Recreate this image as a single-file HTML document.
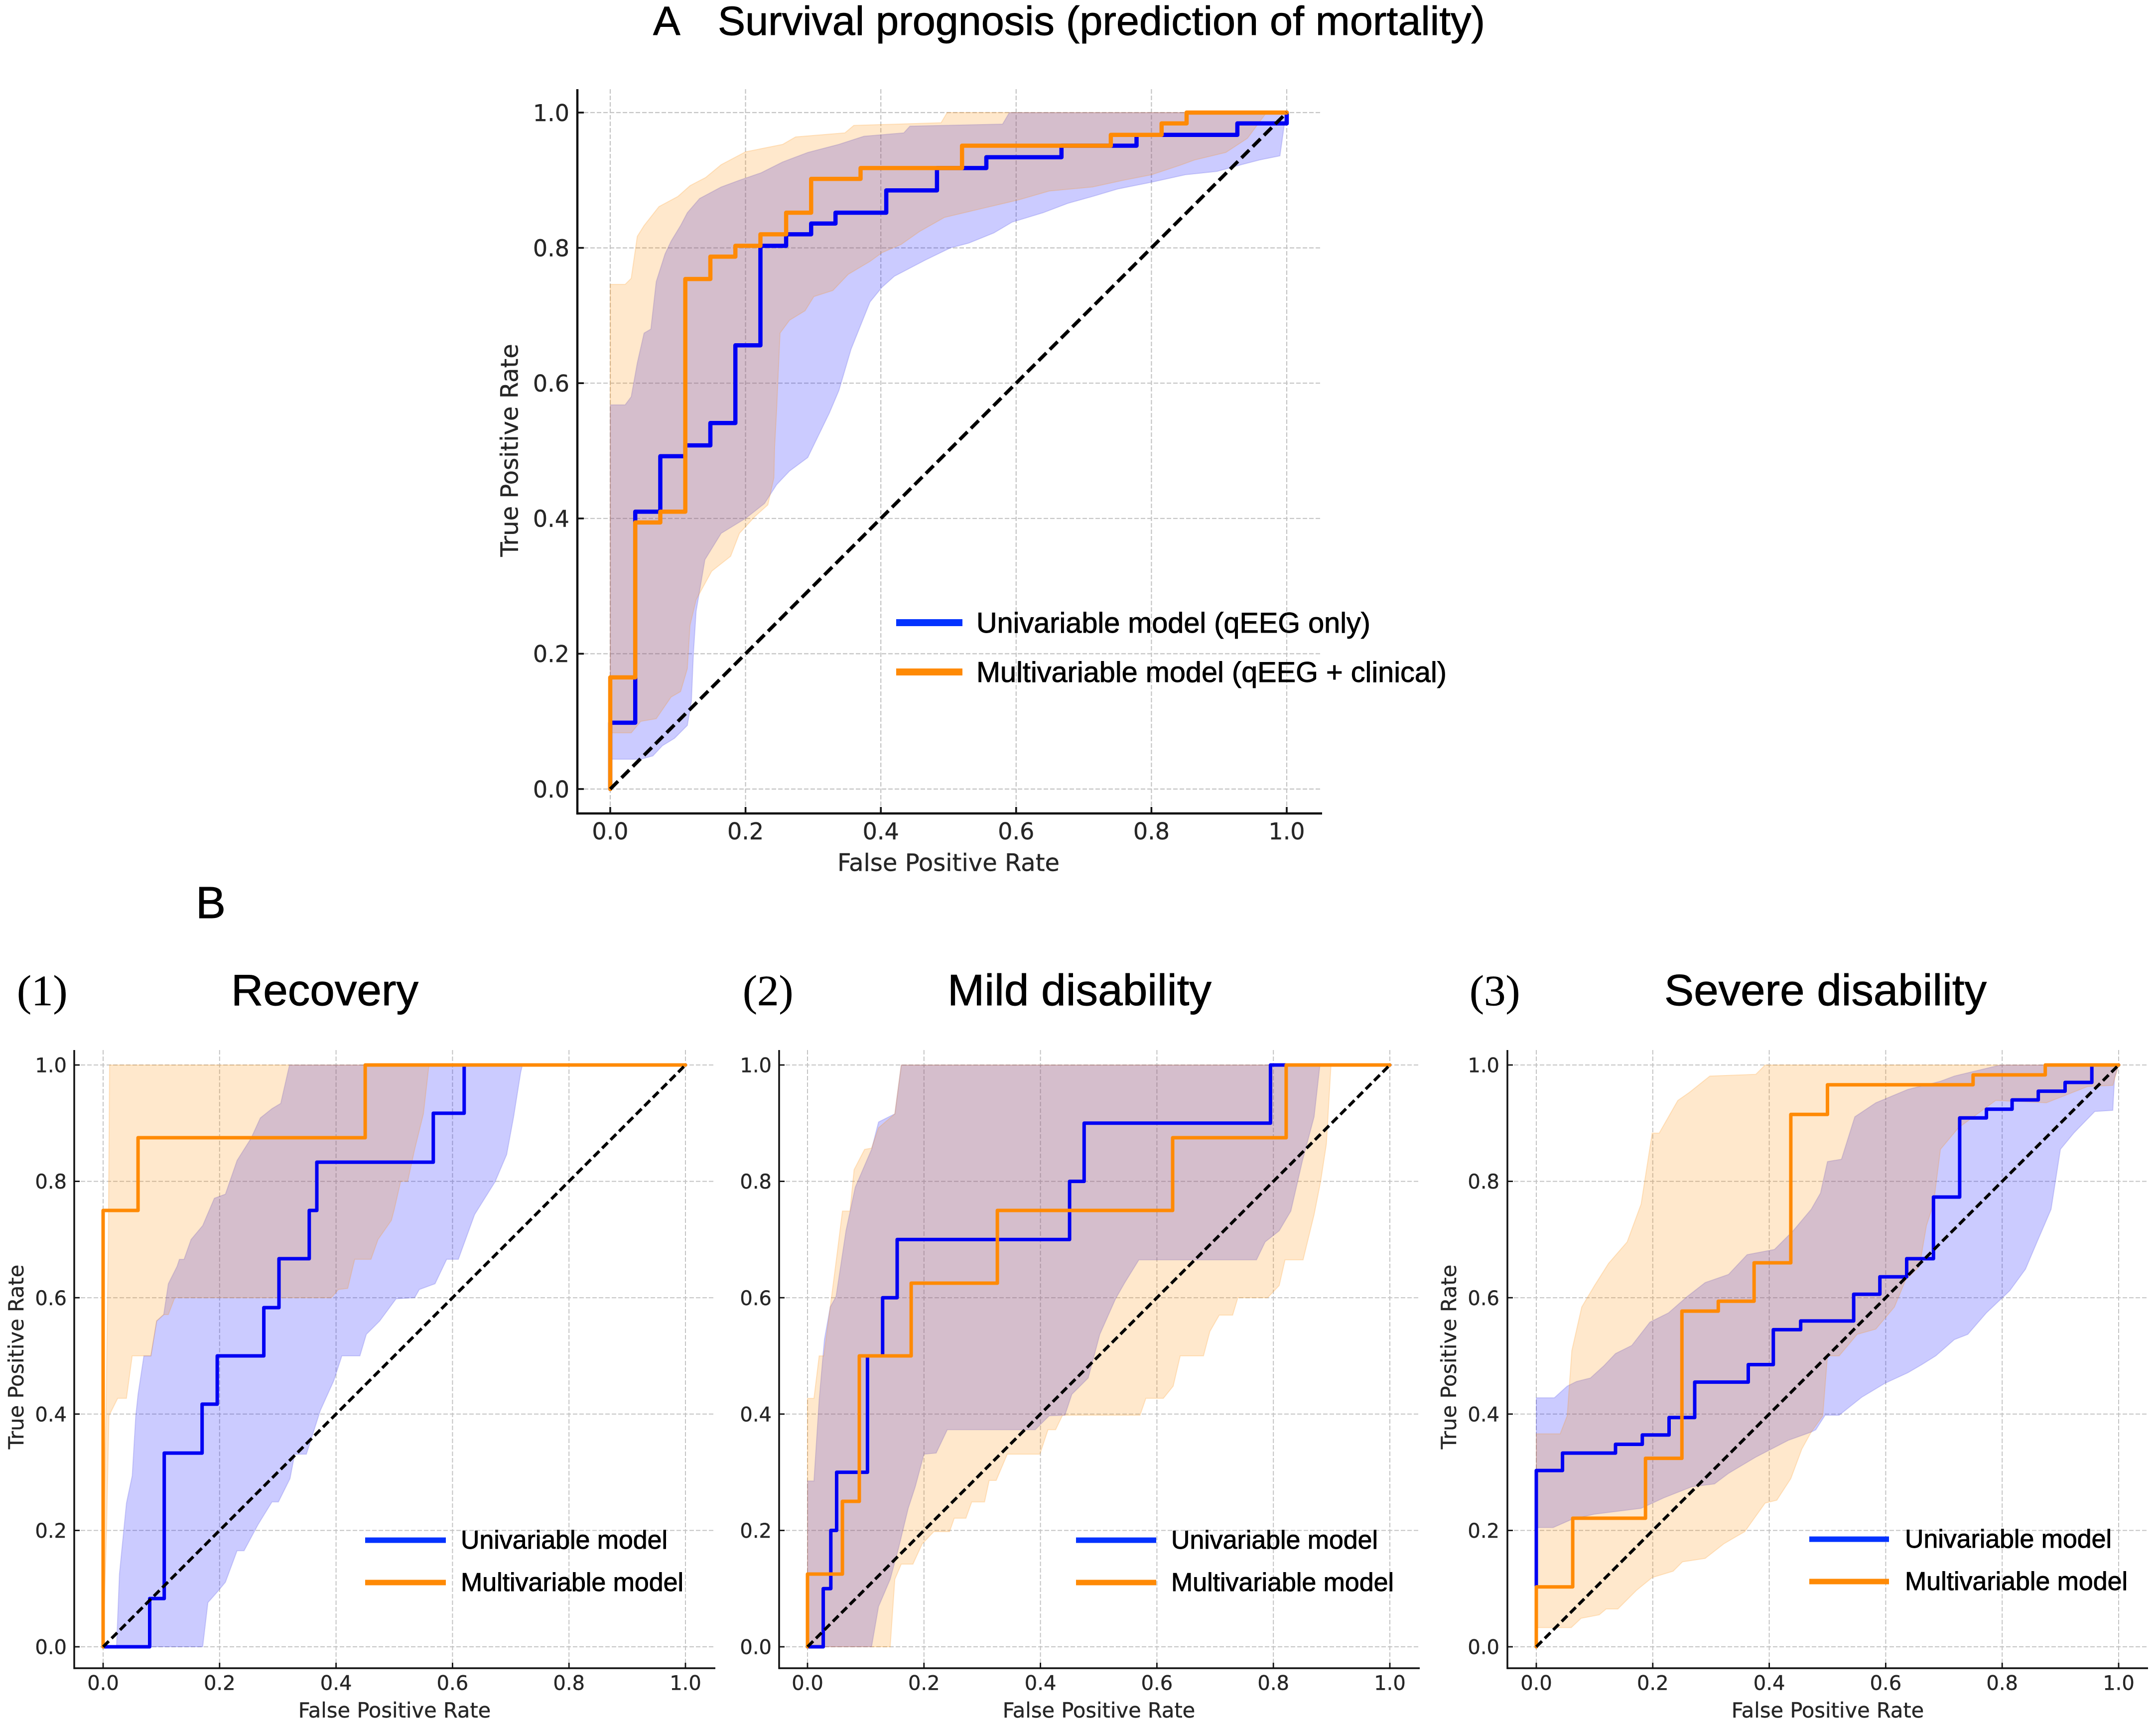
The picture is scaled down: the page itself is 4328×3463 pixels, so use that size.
<!DOCTYPE html>
<html lang="en">
<head>
<meta charset="utf-8">
<title>ROC curves: survival prognosis and outcome prediction</title>
<style>
html,body{margin:0;padding:0;background:#fff;}
svg{display:block;}
text{font-family:"Liberation Sans",sans-serif;fill:#000;stroke:#000;stroke-width:0.9px;}
.tick,.axis{font-family:"DejaVu Sans",sans-serif;fill:#262626;stroke:#262626;stroke-width:0.4px;}
.serif{font-family:"Liberation Serif",serif;stroke-width:0.4px;}
</style>
</head>
<body>
<svg id="figure" xmlns="http://www.w3.org/2000/svg" width="4328" height="3463" viewBox="0 0 4328 3463">
<rect width="4328" height="3463" fill="#fff"/>
<text x="1311" y="70" font-size="82">A</text>
<text x="1441" y="70" font-size="82" textLength="1540" lengthAdjust="spacingAndGlyphs">Survival prognosis (prediction of mortality)</text>
<text x="393" y="1843" font-size="90">B</text>
<text class="serif" x="34" y="2018" font-size="87">(1)</text>
<text x="464" y="2018" font-size="88" textLength="376" lengthAdjust="spacingAndGlyphs">Recovery</text>
<text class="serif" x="1491" y="2018" font-size="87">(2)</text>
<text x="1902" y="2018" font-size="88" textLength="530" lengthAdjust="spacingAndGlyphs">Mild disability</text>
<text class="serif" x="2950" y="2018" font-size="87">(3)</text>
<text x="3341" y="2018" font-size="88" textLength="647" lengthAdjust="spacingAndGlyphs">Severe disability</text>
</svg>
<script>
const tickValues = [0, 0.2, 0.4, 0.6, 0.8, 1.0];
const tickLabels = ['0.0', '0.2', '0.4', '0.6', '0.8', '1.0'];

const survivalUniFpr = [0,0,0.037,0.074,0.111,0.148,0.185,0.222,0.26,0.297,0.333,0.408,0.483,0.556,0.667,0.778,0.927,1];
const survivalUniTpr = [0,0.098,0.41,0.492,0.508,0.541,0.656,0.803,0.82,0.836,0.852,0.885,0.918,0.934,0.951,0.967,0.984,1];
const survivalMultiFpr = [0,0,0.037,0.074,0.111,0.148,0.185,0.222,0.26,0.297,0.37,0.52,0.74,0.815,0.852,1];
const survivalMultiTpr = [0,0.165,0.394,0.41,0.754,0.787,0.803,0.82,0.852,0.902,0.918,0.951,0.967,0.984,1,1];
const survivalUniUpper = [[0,0.568],[0.022,0.568],[0.031,0.58],[0.04,0.63],[0.05,0.674],[0.06,0.68],[0.068,0.75],[0.081,0.791],[0.09,0.81],[0.104,0.833],[0.114,0.852],[0.132,0.873],[0.164,0.89],[0.191,0.9],[0.223,0.911],[0.255,0.927],[0.292,0.941],[0.338,0.953],[0.375,0.965],[0.434,0.97],[0.443,0.98],[0.58,0.983],[0.59,1],[1,1]];
const survivalUniLower = [[0,0.044],[0.045,0.044],[0.063,0.049],[0.077,0.064],[0.095,0.075],[0.114,0.094],[0.12,0.13],[0.123,0.2],[0.127,0.263],[0.14,0.339],[0.164,0.378],[0.2,0.4],[0.228,0.422],[0.246,0.45],[0.265,0.47],[0.292,0.49],[0.324,0.556],[0.338,0.589],[0.356,0.65],[0.384,0.72],[0.402,0.742],[0.42,0.758],[0.439,0.768],[0.466,0.782],[0.503,0.8],[0.53,0.807],[0.567,0.822],[0.594,0.838],[0.64,0.852],[0.677,0.866],[0.713,0.876],[0.75,0.887],[0.8,0.897],[0.85,0.908],[0.897,0.913],[0.933,0.923],[0.96,0.93],[0.99,0.936],[0.999,1]];
const survivalMultiUpper = [[0,0.746],[0.022,0.746],[0.031,0.755],[0.04,0.817],[0.05,0.833],[0.072,0.861],[0.1,0.876],[0.118,0.892],[0.141,0.904],[0.164,0.923],[0.2,0.942],[0.255,0.953],[0.274,0.964],[0.347,0.97],[0.36,0.981],[0.489,0.985],[0.498,1],[1,1]];
const survivalMultiLower = [[0,0.083],[0.031,0.083],[0.045,0.1],[0.068,0.104],[0.09,0.136],[0.104,0.144],[0.114,0.178],[0.118,0.242],[0.127,0.28],[0.15,0.322],[0.178,0.344],[0.191,0.378],[0.214,0.403],[0.233,0.42],[0.242,0.46],[0.243,0.505],[0.246,0.561],[0.251,0.674],[0.265,0.693],[0.288,0.707],[0.301,0.728],[0.329,0.737],[0.352,0.761],[0.384,0.78],[0.402,0.793],[0.43,0.805],[0.457,0.824],[0.494,0.845],[0.549,0.858],[0.604,0.871],[0.649,0.884],[0.713,0.89],[0.759,0.9],[0.8,0.908],[0.842,0.922],[0.864,0.93],[0.91,0.941],[0.942,0.962],[0.97,1],[1,1]];

const recoveryUniFpr = [0,0.08,0.105,0.17,0.196,0.276,0.302,0.354,0.367,0.567,0.62,1];
const recoveryUniTpr = [0,0.083,0.333,0.417,0.5,0.583,0.667,0.75,0.833,0.917,1,1];
const recoveryMultiFpr = [0,0,0.06,0.45,1];
const recoveryMultiTpr = [0,0.75,0.875,1,1];
const recoveryUniUpper = [[0.023,0],[0.028,0.125],[0.04,0.247],[0.05,0.294],[0.056,0.397],[0.06,0.434],[0.07,0.5],[0.082,0.5],[0.092,0.56],[0.104,0.571],[0.112,0.624],[0.127,0.654],[0.131,0.666],[0.139,0.666],[0.151,0.7],[0.171,0.724],[0.191,0.771],[0.21,0.778],[0.23,0.836],[0.254,0.874],[0.27,0.909],[0.29,0.925],[0.305,0.934],[0.32,1],[1,1]];
const recoveryUniLower = [[0.171,0],[0.18,0.076],[0.195,0.093],[0.21,0.111],[0.23,0.165],[0.242,0.165],[0.266,0.21],[0.29,0.249],[0.301,0.249],[0.321,0.289],[0.329,0.331],[0.349,0.331],[0.373,0.406],[0.396,0.457],[0.41,0.5],[0.441,0.5],[0.452,0.537],[0.475,0.56],[0.503,0.598],[0.535,0.6],[0.543,0.614],[0.57,0.624],[0.59,0.666],[0.61,0.666],[0.638,0.743],[0.673,0.799],[0.693,0.846],[0.705,0.911],[0.717,0.987],[0.72,1],[1,1]];
const recoveryMultiUpper = [[0,0],[0.001,0.2],[0.005,0.4],[0.009,0.7],[0.011,1],[1,1]];
const recoveryMultiLower = [[0,0],[0.006,0.2],[0.01,0.397],[0.025,0.427],[0.04,0.427],[0.05,0.5],[0.082,0.5],[0.092,0.56],[0.104,0.571],[0.112,0.571],[0.123,0.6],[0.392,0.6],[0.404,0.614],[0.42,0.616],[0.432,0.666],[0.46,0.666],[0.472,0.7],[0.495,0.733],[0.5,0.752],[0.511,0.8],[0.523,0.8],[0.535,0.855],[0.55,0.916],[0.559,0.995],[0.561,1],[1,1]];

const mildUniFpr = [0,0.027,0.04,0.05,0.103,0.129,0.154,0.45,0.475,0.795,1];
const mildUniTpr = [0,0.1,0.2,0.3,0.5,0.6,0.7,0.8,0.9,1,1];
const mildMultiFpr = [0,0,0.06,0.089,0.178,0.326,0.627,0.822,1];
const mildMultiTpr = [0,0.125,0.25,0.5,0.625,0.75,0.875,1,1];
const mildUniUpper = [[0,0.285],[0.011,0.285],[0.02,0.425],[0.029,0.528],[0.039,0.584],[0.049,0.602],[0.066,0.715],[0.082,0.79],[0.11,0.855],[0.122,0.902],[0.15,0.916],[0.161,1],[1,1]];
const mildUniLower = [[0,0],[0.11,0],[0.122,0.069],[0.142,0.116],[0.157,0.172],[0.173,0.238],[0.185,0.275],[0.2,0.331],[0.221,0.333],[0.24,0.373],[0.391,0.373],[0.415,0.397],[0.442,0.398],[0.454,0.434],[0.482,0.462],[0.502,0.537],[0.529,0.598],[0.545,0.626],[0.569,0.665],[0.771,0.665],[0.786,0.696],[0.81,0.715],[0.83,0.749],[0.85,0.836],[0.87,0.911],[0.88,1],[1,1]];
const mildMultiUpper = [[0,0.427],[0.011,0.427],[0.02,0.5],[0.028,0.5],[0.039,0.584],[0.051,0.677],[0.06,0.749],[0.073,0.749],[0.08,0.82],[0.098,0.855],[0.11,0.857],[0.122,0.892],[0.15,0.916],[0.161,1],[1,1]];
const mildMultiLower = [[0,0],[0.142,0],[0.15,0.116],[0.161,0.142],[0.181,0.142],[0.197,0.177],[0.217,0.198],[0.244,0.198],[0.252,0.221],[0.272,0.221],[0.282,0.249],[0.304,0.249],[0.312,0.286],[0.324,0.286],[0.343,0.331],[0.399,0.331],[0.413,0.373],[0.426,0.373],[0.438,0.398],[0.571,0.398],[0.581,0.427],[0.611,0.427],[0.628,0.448],[0.64,0.5],[0.68,0.5],[0.691,0.542],[0.707,0.57],[0.73,0.57],[0.739,0.6],[0.79,0.6],[0.81,0.621],[0.82,0.665],[0.851,0.665],[0.87,0.743],[0.881,0.799],[0.891,0.864],[0.899,1],[1,1]];

const severeUniFpr = [0,0,0.045,0.136,0.182,0.228,0.272,0.364,0.407,0.454,0.545,0.59,0.636,0.682,0.727,0.773,0.817,0.862,0.908,0.954,1];
const severeUniTpr = [0,0.303,0.333,0.348,0.364,0.394,0.455,0.485,0.545,0.56,0.606,0.636,0.667,0.773,0.909,0.924,0.94,0.955,0.97,1,1];
const severeMultiFpr = [0,0,0.0625,0.1875,0.25,0.3125,0.374,0.437,0.5,0.75,0.874,1];
const severeMultiTpr = [0,0.103,0.221,0.324,0.577,0.594,0.66,0.915,0.966,0.983,1,1];
const severeUniUpper = [[0,0.428],[0.031,0.428],[0.053,0.448],[0.069,0.456],[0.093,0.462],[0.116,0.483],[0.136,0.504],[0.164,0.518],[0.195,0.558],[0.227,0.574],[0.259,0.602],[0.29,0.626],[0.33,0.64],[0.362,0.674],[0.409,0.683],[0.441,0.715],[0.472,0.752],[0.488,0.78],[0.5,0.834],[0.524,0.838],[0.547,0.911],[0.583,0.935],[0.638,0.958],[0.694,0.972],[0.718,0.981],[0.797,1],[1,1]];
const severeUniLower = [[0,0.205],[0.029,0.205],[0.061,0.219],[0.1,0.228],[0.18,0.238],[0.219,0.256],[0.267,0.275],[0.306,0.28],[0.33,0.298],[0.377,0.326],[0.433,0.355],[0.472,0.369],[0.48,0.373],[0.496,0.398],[0.52,0.398],[0.559,0.429],[0.599,0.453],[0.638,0.471],[0.662,0.485],[0.686,0.5],[0.718,0.528],[0.741,0.537],[0.773,0.574],[0.813,0.612],[0.84,0.649],[0.86,0.696],[0.884,0.752],[0.9,0.855],[0.923,0.883],[0.959,0.92],[0.99,0.922],[0.993,0.978],[1,1]];
const severeMultiUpper = [[0,0.366],[0.041,0.366],[0.053,0.397],[0.061,0.509],[0.078,0.584],[0.1,0.621],[0.124,0.659],[0.156,0.696],[0.18,0.761],[0.199,0.883],[0.211,0.883],[0.243,0.939],[0.263,0.953],[0.298,0.981],[0.377,0.984],[0.393,1],[1,1]];
const severeMultiLower = [[0,0.033],[0.06,0.033],[0.077,0.049],[0.108,0.055],[0.12,0.065],[0.14,0.065],[0.172,0.097],[0.199,0.119],[0.235,0.13],[0.251,0.146],[0.29,0.152],[0.322,0.177],[0.358,0.198],[0.393,0.247],[0.413,0.252],[0.437,0.289],[0.456,0.34],[0.472,0.369],[0.492,0.397],[0.5,0.5],[0.52,0.5],[0.551,0.537],[0.583,0.546],[0.615,0.584],[0.634,0.63],[0.658,0.654],[0.67,0.724],[0.682,0.761],[0.694,0.855],[0.725,0.892],[0.789,0.939],[0.876,0.935],[0.947,0.963],[0.99,0.965],[1,1]];

const NS = 'http://www.w3.org/2000/svg';
const figure = document.getElementById('figure');

function draw(tag, parent, name, attrs, content) {
  const el = document.createElementNS(NS, tag);
  Object.keys(attrs).forEach(function (k) { el.setAttribute(k, attrs[k]); });
  
  
  if (content !== undefined) el.textContent = content;
  parent.appendChild(el);
  return el;
}

function drawPanel(cfg) {
  const xScale = function (v) { return cfg.x0 + v * (cfg.x1 - cfg.x0); };
  const yScale = function (v) { return cfg.y0 - v * (cfg.y0 - cfg.y1); };
  const g = draw('g', figure, cfg.id + '-chart', {});

  tickValues.forEach(function (t, i) {
    draw('line', g, cfg.id + '-grid-x-' + tickLabels[i], {x1: xScale(t), x2: xScale(t), y1: cfg.top, y2: cfg.bottom, stroke: '#c4c4c4', 'stroke-width': cfg.grid, 'stroke-dasharray': '9 4'});
    draw('line', g, cfg.id + '-grid-y-' + tickLabels[i], {x1: cfg.left, x2: cfg.right, y1: yScale(t), y2: yScale(t), stroke: '#c4c4c4', 'stroke-width': cfg.grid, 'stroke-dasharray': '9 4'});
  });

  const band = function (upper, lower, fill, edge, name) {
    const pts = upper.concat(lower.slice().reverse());
    const d = pts.map(function (p, i) { return (i ? 'L' : 'M') + xScale(p[0]).toFixed(1) + ' ' + yScale(p[1]).toFixed(1); }).join('') + 'Z';
    draw('path', g, name, {d: d, fill: fill, stroke: edge, 'stroke-width': 2});
  };
  band(cfg.uniUpper, cfg.uniLower, 'rgba(20,20,255,0.22)', 'rgba(60,60,220,0.2)', cfg.id + '-univariable-ci-band');
  band(cfg.multiUpper, cfg.multiLower, 'rgba(255,140,0,0.2)', 'rgba(255,140,0,0.2)', cfg.id + '-multivariable-ci-band');

  const step = function (fpr, tpr, color, name) {
    let d = 'M' + xScale(fpr[0]).toFixed(1) + ' ' + yScale(tpr[0]).toFixed(1);
    for (let i = 1; i < fpr.length; i++) {
      d += 'H' + xScale(fpr[i]).toFixed(1) + 'V' + yScale(tpr[i]).toFixed(1);
    }
    draw('path', g, name, {d: d, fill: 'none', stroke: color, 'stroke-width': cfg.line, 'stroke-linejoin': 'round', 'stroke-linecap': 'round'});
  };
  step(cfg.uniFpr, cfg.uniTpr, '#0000f2', cfg.id + '-univariable-curve');
  step(cfg.multiFpr, cfg.multiTpr, '#ff8a05', cfg.id + '-multivariable-curve');

  draw('line', g, cfg.id + '-chance-diagonal', {x1: xScale(0), y1: yScale(0), x2: xScale(1), y2: yScale(1), stroke: '#000', 'stroke-width': cfg.diag, 'stroke-dasharray': cfg.dash});

  draw('line', g, cfg.id + '-y-axis', {x1: cfg.left, x2: cfg.left, y1: cfg.top, y2: cfg.bottom + cfg.spine / 2, stroke: '#111', 'stroke-width': cfg.spine});
  draw('line', g, cfg.id + '-x-axis', {x1: cfg.left, x2: cfg.right, y1: cfg.bottom, y2: cfg.bottom, stroke: '#111', 'stroke-width': cfg.spine});

  tickValues.forEach(function (t, i) {
    draw('line', g, cfg.id + '-x-tick-' + tickLabels[i], {x1: xScale(t), x2: xScale(t), y1: cfg.bottom, y2: cfg.bottom - cfg.tick, stroke: '#111', 'stroke-width': cfg.spine * 0.8});
    draw('line', g, cfg.id + '-y-tick-' + tickLabels[i], {x1: cfg.left, x2: cfg.left + cfg.tick, y1: yScale(t), y2: yScale(t), stroke: '#111', 'stroke-width': cfg.spine * 0.8});
    draw('text', g, cfg.id + '-x-tick-label-' + tickLabels[i], {class: 'tick', x: xScale(t), y: cfg.xTickY + cfg.tickFont * 0.365, 'font-size': cfg.tickFont, 'text-anchor': 'middle'}, tickLabels[i]);
    draw('text', g, cfg.id + '-y-tick-label-' + tickLabels[i], {class: 'tick', x: cfg.yTickRight, y: yScale(t) + cfg.tickFont * 0.365, 'font-size': cfg.tickFont, 'text-anchor': 'end'}, tickLabels[i]);
  });

  draw('text', g, cfg.id + '-x-axis-title', {class: 'axis', x: cfg.xLabelX, y: cfg.xLabelY + cfg.labelFont * 0.365, 'font-size': cfg.labelFont, 'text-anchor': 'middle'}, 'False Positive Rate');
  if (cfg.yLabelX) {
    draw('text', g, cfg.id + '-y-axis-title', {class: 'axis', x: 0, y: 0, 'font-size': cfg.labelFont, 'text-anchor': 'middle', transform: 'translate(' + (cfg.yLabelX + cfg.labelFont * 0.365) + ' ' + cfg.yLabelY + ') rotate(-90)'}, 'True Positive Rate');
  }

  const legendNames = [cfg.uniLabel, cfg.multiLabel];
  const legendColors = ['#0433ff', '#ff8a05'];
  const legendWidths = [cfg.uniWidth, cfg.multiWidth];
  legendNames.forEach(function (label, i) {
    const ly = cfg.legendY[i];
    const suffix = i ? 'multivariable' : 'univariable';
    draw('line', g, cfg.id + '-legend-swatch-' + suffix, {x1: cfg.legendX[0], x2: cfg.legendX[1], y1: ly, y2: ly, stroke: legendColors[i], 'stroke-width': cfg.legendLine});
    draw('text', g, cfg.id + '-legend-label-' + suffix, {x: cfg.legendX[2], y: ly + cfg.legendBase, 'font-size': cfg.legendFont, textLength: legendWidths[i], lengthAdjust: 'spacingAndGlyphs'}, label);
  });
}

const bCommon = {y0: 3306, y1: 2138, top: 2108, bottom: 3349, spine: 3.5, grid: 2, line: 7, diag: 6, dash: '16 8', tick: 11, tickFont: 40, labelFont: 41.6, xTickY: 3378, xLabelY: 3433, legendFont: 51.6, legendLine: 11, legendBase: 17, uniLabel: 'Univariable model', multiLabel: 'Multivariable model', uniWidth: 415, multiWidth: 447};

drawPanel({id: 'survival', x0: 1225, x1: 2583, y0: 1584, y1: 226, left: 1159, right: 2654, top: 179, bottom: 1633, spine: 4.5, grid: 2.2, line: 8.5, diag: 7, dash: '22 10', tick: 13, tickFont: 46, labelFont: 48, xTickY: 1668, xLabelX: 1904, xLabelY: 1731, yTickRight: 1143, yLabelX: 1022, yLabelY: 904, legendX: [1799, 1932, 1960], legendY: [1250, 1349], legendFont: 57.6, legendLine: 14, legendBase: 20, uniLabel: 'Univariable model (qEEG only)', multiLabel: 'Multivariable model (qEEG + clinical)', uniWidth: 791, multiWidth: 944, uniFpr: survivalUniFpr, uniTpr: survivalUniTpr, multiFpr: survivalMultiFpr, multiTpr: survivalMultiTpr, uniUpper: survivalUniUpper, uniLower: survivalUniLower, multiUpper: survivalMultiUpper, multiLower: survivalMultiLower});

drawPanel(Object.assign({}, bCommon, {id: 'recovery', x0: 207, x1: 1376, left: 149, right: 1436, yTickRight: 134, yLabelX: 32, yLabelY: 2724, xLabelX: 792, legendX: [733, 895, 925], legendY: [3092, 3177], uniFpr: recoveryUniFpr, uniTpr: recoveryUniTpr, multiFpr: recoveryMultiFpr, multiTpr: recoveryMultiTpr, uniUpper: recoveryUniUpper, uniLower: recoveryUniLower, multiUpper: recoveryMultiUpper, multiLower: recoveryMultiLower}));

drawPanel(Object.assign({}, bCommon, {id: 'mild-disability', x0: 1621, x1: 2790, left: 1564, right: 2850, yTickRight: 1549, yLabelX: 0, xLabelX: 2206, legendX: [2160, 2321, 2351], legendY: [3092, 3177], uniFpr: mildUniFpr, uniTpr: mildUniTpr, multiFpr: mildMultiFpr, multiTpr: mildMultiTpr, uniUpper: mildUniUpper, uniLower: mildUniLower, multiUpper: mildMultiUpper, multiLower: mildMultiLower}));

drawPanel(Object.assign({}, bCommon, {id: 'severe-disability', x0: 3084, x1: 4253, left: 3026, right: 4312, yTickRight: 3010, yLabelX: 2908, yLabelY: 2724, xLabelX: 3669, legendX: [3632, 3792, 3824], legendY: [3090, 3175], uniFpr: severeUniFpr, uniTpr: severeUniTpr, multiFpr: severeMultiFpr, multiTpr: severeMultiTpr, uniUpper: severeUniUpper, uniLower: severeUniLower, multiUpper: severeMultiUpper, multiLower: severeMultiLower}));
</script>
</body>
</html>
